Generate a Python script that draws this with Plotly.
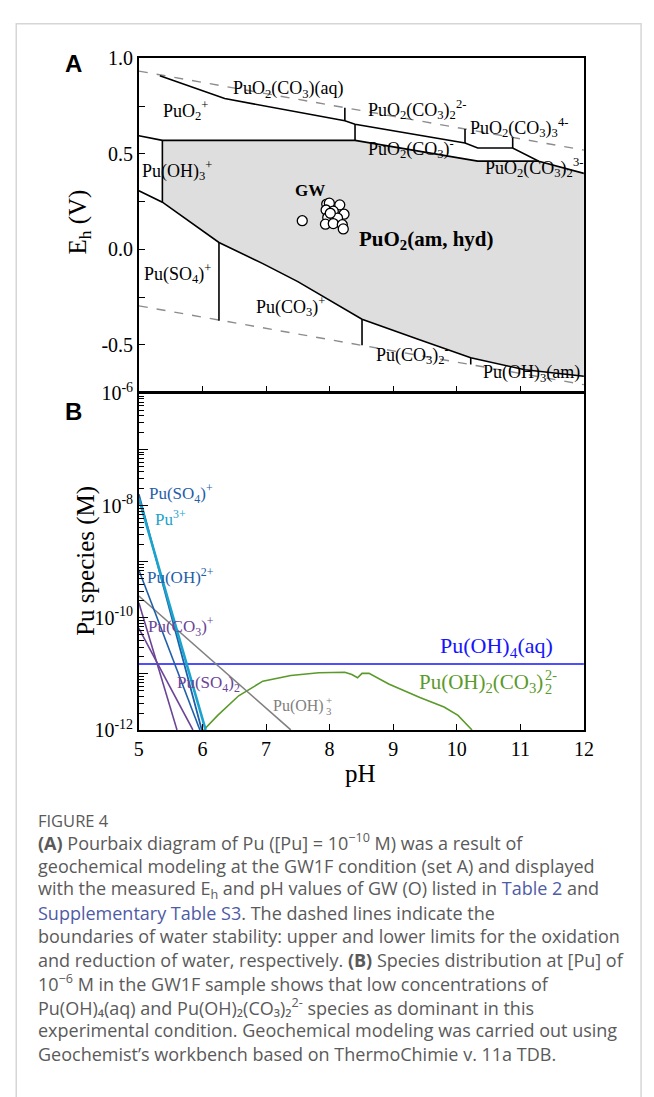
import plotly.graph_objects as go

W, H = 654, 1097

# ---------------- Panel A data (Pourbaix) ----------------
water_up_ph = [5.0, 12.0]
water_up_eh = [0.934, 0.520]
water_low_ph = [5.0, 12.0]
water_low_eh = [-0.296, -0.709]

top_ph = [5.33, 6.35, 8.24, 8.40, 10.13, 10.33, 10.88, 11.29, 12.0]
top_eh = [0.910, 0.790, 0.674, 0.655, 0.557, 0.531, 0.531, 0.462, 0.398]
mid_ph = [5.0, 5.37, 8.40, 10.33, 11.29]
mid_eh = [0.595, 0.571, 0.571, 0.462, 0.462]
low_ph = [5.0, 5.37, 6.26, 6.95, 7.50, 7.99, 8.51, 9.37, 10.22, 11.07, 12.0]
low_eh = [0.307, 0.247, 0.036, -0.075, -0.169, -0.263, -0.366, -0.468, -0.568, -0.631, -0.665]
vert_ph = [8.24, 8.40, 10.13, 10.88, 5.37, 6.26, 8.51, 10.22]
vert_eh_top = [0.742, 0.655, 0.630, 0.586, 0.571, 0.036, -0.366, -0.568]
vert_eh_bot = [0.674, 0.571, 0.557, 0.531, 0.247, -0.374, -0.503, -0.604]

gray_ph = [5.37, 8.40, 10.33, 11.29, 12.0, 12.0, 11.07, 10.22, 9.37, 8.51, 7.99, 7.50, 6.95, 6.26, 5.37]
gray_eh = [0.571, 0.571, 0.462, 0.462, 0.398, -0.665, -0.631, -0.568, -0.468, -0.366, -0.263, -0.169, -0.075, 0.036, 0.247]

gw_ph = [7.57, 7.955, 7.996, 8.16, 7.945, 8.058, 8.227, 7.971, 8.125, 7.935, 8.058, 8.20, 8.215, 8.011]
gw_eh = [0.150, 0.237, 0.242, 0.233, 0.206, 0.200, 0.184, 0.167, 0.164, 0.132, 0.135, 0.129, 0.107, 0.189]

a_labels = [
    ("PuO<sub>2</sub>(CO<sub>3</sub>)(aq)", 7.36, 0.838),
    ("PuO<sub>2</sub>(CO<sub>3</sub>)<sub>2</sub><sup>2-</sup>", 9.37, 0.735),
    ("PuO<sub>2</sub>(CO<sub>3</sub>)<sub>3</sub><sup>4-</sup>", 10.98, 0.638),
    ("PuO<sub>2</sub><sup>+</sup>", 5.74, 0.725),
    ("Pu(OH)<sub>3</sub><sup>+</sup>", 5.60, 0.412),
    ("PuO<sub>2</sub>(CO<sub>3</sub>)<sup>-</sup>", 9.28, 0.530),
    ("PuO<sub>2</sub>(CO<sub>3</sub>)<sub>2</sub><sup>3-</sup>", 11.22, 0.428),
    ("Pu(SO<sub>4</sub>)<sup>+</sup>", 5.60, -0.125),
    ("Pu(CO<sub>3</sub>)<sup>+</sup>", 7.39, -0.300),
    ("Pu(CO<sub>3</sub>)<sub>2</sub><sup>-</sup>", 9.31, -0.550),
    ("Pu(OH)<sub>3</sub>(am)", 11.17, -0.650),
]

# ---------------- Panel B data (species) ----------------
so4p_ph = [5.0, 5.99]; so4p_c = [1.6e-8, 1e-12]
pu3_ph = [5.0, 6.05]; pu3_c = [1.35e-8, 1e-12]
oh2p_ph = [5.0, 5.96]; oh2p_c = [7.1e-10, 1e-12]
co3p_ph = [5.0, 5.60]; co3p_c = [1.86e-10, 1e-12]
so42_ph = [5.0, 5.85]; so42_c = [6.5e-11, 1e-12]
oh3p_ph = [5.0, 7.39]; oh3p_c = [2.45e-10, 1e-12]
oh4_ph = [5.0, 12.0]; oh4_c = [1.5e-11, 1.5e-11]
green_ph = [6.02, 6.24, 6.57, 6.95, 7.39, 7.83, 8.24, 8.35, 8.44, 8.51, 8.62, 8.93, 9.42, 9.80, 10.02, 10.24]
green_c = [1e-12, 1.82e-12, 4.07e-12, 7.41e-12, 9.33e-12, 1.05e-11, 1.07e-11, 9.77e-12, 8.51e-12,
           1.02e-11, 1.02e-11, 6.61e-12, 3.80e-12, 2.57e-12, 1.82e-12, 1e-12]

x_ticks = [5, 6, 7, 8, 9, 10, 11, 12]
a_tickvals = [-0.5, -0.25, 0.0, 0.25, 0.5, 0.75, 1.0]
a_ticktext = ["-0.5", "", "0.0", "", "0.5", "", "1.0"]
b_tickvals = [1e-12, 1e-11, 1e-10, 1e-9, 1e-8, 1e-7, 1e-6]
b_ticktext = ["10<sup>-12</sup>", "", "10<sup>-10</sup>", "", "10<sup>-8</sup>", "", "10<sup>-6</sup>"]

caption_title = "FIGURE 4"
caption_lines = [
    "<b>(A)</b> Pourbaix diagram of Pu ([Pu] = 10<sup>−10</sup> M) was a result of",
    "geochemical modeling at the GW1F condition (set A) and displayed",
    "with the measured E<sub>h</sub> and pH values of GW (O) listed in <span style='color:#4e5ba6'>Table 2</span> and",
    "<span style='color:#4e5ba6'>Supplementary Table S3</span>. The dashed lines indicate the",
    "boundaries of water stability: upper and lower limits for the oxidation",
    "and reduction of water, respectively. <b>(B)</b> Species distribution at [Pu] of",
    "10<sup>−6</sup> M in the GW1F sample shows that low concentrations of",
    "Pu(OH)₄(aq) and Pu(OH)₂(CO₃)₂<sup>2-</sup> species as dominant in this",
    "experimental condition. Geochemical modeling was carried out using",
    "Geochemist’s workbench based on ThermoChimie v. 11a TDB.",
]

# ---------------- geometry (pixels) ----------------
PX_L, PX_R = 137, 592.5
A_TOP, A_BOT = 46.5, 387
B_TOP, B_BOT = 389, 733

def px(x):
    return x / W

def py(y):
    return 1 - y / H

SERIF = "Liberation Serif"
fig = go.Figure()

# gray region
fig.add_trace(go.Scatter(x=gray_ph, y=gray_eh, fill="toself", fillcolor="#dedede",
                         line=dict(width=0), mode="lines", hoverinfo="skip",
                         xaxis="x", yaxis="y"))
# water lines
for xs, ys in [(water_up_ph, water_up_eh), (water_low_ph, water_low_eh)]:
    fig.add_trace(go.Scatter(x=xs, y=ys, mode="lines",
                             line=dict(color="#8c8c8c", width=1.4, dash="dash"),
                             xaxis="x", yaxis="y"))
# boundaries
for xs, ys in [(top_ph, top_eh), (mid_ph, mid_eh), (low_ph, low_eh)]:
    fig.add_trace(go.Scatter(x=xs, y=ys, mode="lines", line=dict(color="black", width=1.6),
                             xaxis="x", yaxis="y"))
vx, vy = [], []
for p, t, b in zip(vert_ph, vert_eh_top, vert_eh_bot):
    vx += [p, p, None]
    vy += [t, b, None]
fig.add_trace(go.Scatter(x=vx, y=vy, mode="lines", line=dict(color="black", width=1.6),
                         xaxis="x", yaxis="y"))
# GW points
fig.add_trace(go.Scatter(x=gw_ph, y=gw_eh, mode="markers",
                         marker=dict(symbol="circle", size=10, color="white",
                                     line=dict(color="black", width=1.3)),
                         xaxis="x", yaxis="y"))

# Panel B lines
b_series = [
    (oh4_ph, oh4_c, "#1414ff", 1.6),
    (green_ph, green_c, "#5a9a2a", 1.6),
    (oh3p_ph, oh3p_c, "#808080", 1.6),
    (so42_ph, so42_c, "#6a4596", 1.6),
    (co3p_ph, co3p_c, "#6a4596", 1.6),
    (oh2p_ph, oh2p_c, "#1f5ea8", 1.6),
    (so4p_ph, so4p_c, "#1f5ea8", 1.8),
    (pu3_ph, pu3_c, "#1aa3cc", 2.6),
]
for xs, ys, col, w in b_series:
    fig.add_trace(go.Scatter(x=xs, y=ys, mode="lines", line=dict(color=col, width=w),
                             xaxis="x2", yaxis="y2"))

C = dict(xanchor="center", yanchor="middle", showarrow=False)
ann = []
for txt, x, y in a_labels:
    ann.append(dict(text=txt, x=x, y=y, xref="x", yref="y",
                    font=dict(family=SERIF, size=18, color="black"), **C))
ann.append(dict(text="<b>GW</b>", x=7.69, y=0.31, xref="x", yref="y",
                font=dict(family=SERIF, size=17, color="black"), **C))
ann.append(dict(text="<b>PuO<sub>2</sub>(am, hyd)</b>", x=9.52, y=0.05, xref="x", yref="y",
                font=dict(family=SERIF, size=21, color="black"), **C))

b_labels = [
    ("Pu(SO<sub>4</sub>)<sup>+</sup>", 5.66, -7.78, "#1f5ea8", 17),
    ("Pu<sup>3+</sup>", 5.50, -8.22, "#1aa3cc", 17),
    ("Pu(OH)<sup>2+</sup>", 5.66, -9.25, "#1f5ea8", 17),
    ("Pu(CO<sub>3</sub>)<sup>+</sup>", 5.66, -10.15, "#6a4596", 17),
    ("Pu(SO<sub>4</sub>)<sub>2</sub>", 6.09, -11.18, "#6a4596", 17),
    ("Pu(OH)<sub>4</sub>(aq)", 10.62, -10.52, "#1414ff", 22),
]
for txt, x, y, col, s in b_labels:
    ann.append(dict(text=txt, x=x, y=y, xref="x2", yref="y2",
                    font=dict(family=SERIF, size=s, color=col), **C))

# labels with stacked sub/superscripts: (main, sub, sup, x_end, y, colour, size)
stacked = [
    ("Pu(OH)<sub>2</sub>(CO<sub>3</sub>)", "2", "2-", 11.38, -11.16, "#5a9a2a", 21),
    ("Pu(OH)", "3", "+", 7.93, -11.57, "#808080", 16),
]
for main, sb, sp, xe, y, col, s in stacked:
    ann.append(dict(text=main, x=xe, y=y, xref="x2", yref="y2", xanchor="right",
                    yanchor="middle", borderpad=0, showarrow=False,
                    font=dict(family=SERIF, size=s, color=col)))
    ann.append(dict(text=sp, x=xe, y=y, xref="x2", yref="y2", xanchor="left",
                    yanchor="middle", borderpad=0, yshift=0.38 * s, showarrow=False,
                    font=dict(family=SERIF, size=0.68 * s, color=col)))
    ann.append(dict(text=sb, x=xe, y=y, xref="x2", yref="y2", xanchor="left",
                    yanchor="middle", borderpad=0, yshift=-0.3 * s, showarrow=False,
                    font=dict(family=SERIF, size=0.68 * s, color=col)))

# axis titles
ann.append(dict(text="E<sub>h</sub> (V)", x=px(76), y=py(214), xref="paper", yref="paper",
                textangle=-90, font=dict(family=SERIF, size=25, color="black"), **C))
ann.append(dict(text="Pu species (M)", x=px(83), y=py(560), xref="paper", yref="paper",
                textangle=-90, font=dict(family=SERIF, size=25, color="black"), **C))
ann.append(dict(text="pH", x=px(364), y=py(778), xref="paper", yref="paper",
                font=dict(family=SERIF, size=25, color="black"), **C))
# panel letters
ann.append(dict(text="<b>A</b>", x=px(70), y=py(52), xref="paper", yref="paper",
                font=dict(family="Liberation Sans", size=24, color="black"), **C))
ann.append(dict(text="<b>B</b>", x=px(70), y=py(407), xref="paper", yref="paper",
                font=dict(family="Liberation Sans", size=24, color="black"), **C))

# caption
CAP = "Open Sans"
ann.append(dict(text=caption_title, x=px(32), y=py(826), xref="paper", yref="paper",
                xanchor="left", yanchor="middle", showarrow=False,
                font=dict(family=CAP, size=16.5, color="#5a5a5a")))
for i, line in enumerate(caption_lines):
    ann.append(dict(text=line, x=px(32), y=py(848 + 24 * i), xref="paper", yref="paper",
                    xanchor="left", yanchor="middle", showarrow=False,
                    font=dict(family=CAP, size=18, color="#5a5a5a")))

shapes = [dict(type="path", xref="paper", yref="paper",
               path=f"M {px(11.5)} {py(1110)} L {px(11.5)} {py(11)} L {px(651)} {py(11)} L {px(651)} {py(1110)}",
               line=dict(color="#d6d6d6", width=1.5))]

axis_common = dict(showline=True, linecolor="black", linewidth=1.5, mirror=True,
                   ticks="inside", tickcolor="black", tickwidth=1.3, showgrid=False,
                   zeroline=False, tickfont=dict(family=SERIF, size=20, color="black"))

fig.update_layout(
    width=W, height=H, margin=dict(l=0, r=0, t=0, b=0),
    paper_bgcolor="white", plot_bgcolor="white", showlegend=False,
    xaxis=dict(domain=[px(PX_L), px(PX_R)], range=[5, 12], tickvals=x_ticks,
               showticklabels=False, ticklen=6, anchor="y", **axis_common),
    yaxis=dict(domain=[py(A_BOT), py(A_TOP)], range=[-0.745, 1.0], tickvals=a_tickvals,
               ticktext=a_ticktext, ticklen=6, anchor="x", **axis_common),
    xaxis2=dict(domain=[px(PX_L), px(PX_R)], range=[5, 12], tickvals=x_ticks,
                ticklen=6, anchor="y2", **axis_common),
    yaxis2=dict(domain=[py(B_BOT), py(B_TOP)], type="log", range=[-12, -6],
                tickvals=b_tickvals, ticktext=b_ticktext, ticklen=9, anchor="x2",
                minor=dict(ticks="inside", ticklen=5, tickcolor="black", tickwidth=1,
                           tickvals=[m * 10 ** e for e in range(-12, -6) for m in range(2, 10)]),
                **axis_common),
    annotations=ann, shapes=shapes,
)

fig.write_html("out.html")
